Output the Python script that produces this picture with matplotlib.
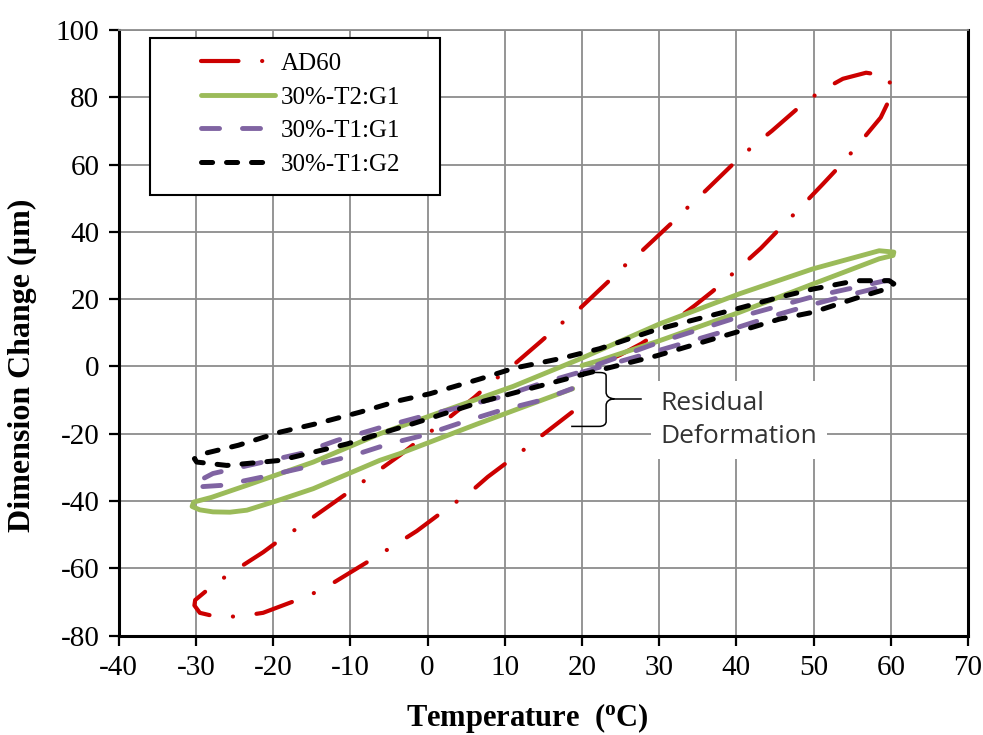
import matplotlib
matplotlib.use('Agg')
import matplotlib.pyplot as plt
from matplotlib.path import Path
from matplotlib.patches import PathPatch, Rectangle

plt.rcParams['lines.scale_dashes'] = False
plt.rcParams['mathtext.fontset'] = 'custom'
plt.rcParams['mathtext.rm'] = 'Liberation Serif:bold'
plt.rcParams['font.family'] = ['Liberation Serif', 'DejaVu Serif']

# ---------------- data ----------------
series_names = ['AD60', '30%-T2:G1', '30%-T1:G1', '30%-T1:G2']

ad60_temp = [18.7, 14.3, 12.1, 7.8, 5.4, 3.1, -1.4, -3.8, -6.3, -11.0, -13.5, -16.2,
             -21.3, -24.2, -27.1, -29.5, -30.2, -30.1, -28.1, -25.9, -21.3, -19.0,
             -16.5, -12.3, -9.9, -7.5, -3.6, -0.6, 1.8, 6.1, 8.3, 10.4, 14.7, 17.0,
             19.2, 23.3, 25.4, 27.7, 31.7, 33.8, 36.0, 39.9, 42.2, 44.6, 48.8, 51.2,
             53.8, 56.8, 59.4, 60.2, 60.0, 58.7, 55.3, 53.2, 51.2, 47.4, 45.3, 43.2,
             39.1, 36.9, 34.6, 30.3, 27.7, 25.0, 22.0]
ad60_dim = [-13.6, -21.4, -25.4, -32.8, -37.6, -41.2, -48.9, -52.4, -56.0, -62.6, -66.1,
            -68.8, -73.2, -74.2, -74.5, -73.2, -71.0, -69.4, -65.6, -62.0, -55.2, -51.3,
            -47.5, -40.7, -36.8, -32.8, -26.4, -21.0, -17.0, -9.1, -4.6, -1.0, 7.5, 12.2,
            16.1, 25.0, 29.7, 34.2, 42.8, 47.5, 52.2, 60.9, 65.6, 70.0, 78.4, 82.2,
            85.5, 87.3, 86.4, 83.0, 80.2, 74.0, 64.6, 59.1, 54.2, 45.1, 40.2, 35.2,
            26.7, 22.3, 18.1, 10.7, 6.8, 3.5, 0.5]

t2g1_temp = [20.0, 22.3, 30.1, 40.4, 49.9, 58.5, 60.3, 60.4, 58.5, 49.9, 40.4, 30.1,
             19.8, 11.1, 0.3, -6.2, -14.8, -23.4, -28.0, -30.3, -30.5, -29.5, -27.8,
             -25.6, -23.4, -19.1, -14.8, -6.2, -3.6, 6.3, 18.8]
t2g1_dim = [0.3, 1.8, 7.7, 16.1, 24.5, 32.0, 33.0, 34.0, 34.4, 29.0, 21.6, 12.7,
            2.3, -5.9, -14.7, -20.0, -28.4, -35.3, -38.9, -40.3, -41.6, -42.6, -43.2,
            -43.3, -42.7, -39.6, -36.3, -27.9, -25.9, -17.2, -6.6]

t1g1_temp = [20.0, 30.0, 40.0, 45.6, 50.0, 55.0, 59.8, 60.3, 59.5, 55.0, 50.0, 40.0,
             30.0, 22.3, 19.7, 14.6, 9.4, 4.2, -1.0, -6.2, -11.8, -16.5, -21.3, -27.8,
             -30.3, -29.9, -26.5, -21.3, -14.8, -9.6, -5.0, -0.6, 4.6, 9.4, 14.6, 18.7]
t1g1_dim = [-1.7, 4.8, 11.5, 15.6, 18.5, 21.5, 24.2, 25.2, 25.6, 23.3, 20.8, 14.5,
            7.2, 0.8, -1.7, -5.1, -9.1, -12.1, -15.0, -18.2, -22.0, -25.9, -28.4, -31.8,
            -34.8, -35.8, -35.3, -32.8, -29.4, -26.4, -23.0, -20.5, -16.5, -13.1, -10.1, -6.6]

t1g2_temp = [20.0, 29.7, 40.0, 45.6, 49.9, 55.5, 59.8, 60.4, 59.8, 55.5, 49.9, 45.6,
             40.0, 29.7, 22.3, 17.1, 11.2, 6.8, 0.3, -3.6, -8.8, -14.4, -19.1, -24.5,
             -29.0, -30.2, -29.9, -26.0, -19.1, -10.4, -6.2, -1.9, 6.8, 13.2, 18.8, 20.0]
t1g2_dim = [-2.4, 3.2, 10.2, 14.1, 16.1, 20.3, 23.3, 24.6, 25.5, 25.5, 23.0, 20.6,
            17.1, 11.0, 5.3, 2.3, -0.5, -3.7, -8.1, -10.1, -13.6, -17.0, -19.5, -23.4,
            -25.9, -27.4, -28.4, -29.4, -27.9, -23.0, -20.0, -17.0, -10.6, -6.6, -3.2, -2.4]

x_ticks = [-40, -30, -20, -10, 0, 10, 20, 30, 40, 50, 60, 70]
y_ticks = [-80, -60, -40, -20, 0, 20, 40, 60, 80, 100]

# ---------------- figure ----------------
fig = plt.figure(figsize=(9.83, 7.35), dpi=100)
ax = fig.add_axes([0.1208, 0.1351, 0.9847 - 0.1208, 0.9592 - 0.1351])

ax.plot(ad60_temp, ad60_dim, color='#CC0000', lw=3.0,
        dashes=(27, 17, 0.1, 17), dash_capstyle='round', solid_capstyle='round',
        label=series_names[0], zorder=3)
ax.plot(t2g1_temp, t2g1_dim, color='#9BBB59', lw=3.5, solid_capstyle='round',
        label=series_names[1], zorder=4)
ax.plot(t1g1_temp, t1g1_dim, color='#8064A2', lw=3.5,
        dashes=(13, 16.5), dash_capstyle='round',
        label=series_names[2], zorder=5)
ax.plot(t1g2_temp, t1g2_dim, color='black', lw=3.6,
        dashes=(8, 10), dash_capstyle='round',
        label=series_names[3], zorder=6)

ax.set_xlim(-40, 70)
ax.set_ylim(-80, 100)
ax.set_xticks(x_ticks)
ax.set_yticks(y_ticks)
ax.set_xticklabels([str(v) for v in x_ticks])
ax.set_yticklabels([str(v) for v in y_ticks])
ax.tick_params(direction='out', length=7, width=1.6, labelsize=21, colors='black',
               pad=7)
ax.grid(True, color='#8C8C8C', lw=1.3)
ax.set_axisbelow(True)
for s in ['left', 'bottom', 'right']:
    ax.spines[s].set_color('black')
    ax.spines[s].set_linewidth(2.2)
ax.spines['top'].set_color('#8C8C8C')
ax.spines['top'].set_linewidth(1.3)

# legend frame (drawn separately to reproduce the wide left padding)
ax.add_patch(Rectangle((0.0369, 0.7276), 0.3783 - 0.0369, 0.9868 - 0.7276,
                       transform=ax.transAxes, facecolor='white', edgecolor='black',
                       lw=1.5, zorder=9))
leg = ax.legend(loc='center left', bbox_to_anchor=(0.0969, 0.8613), borderaxespad=0,
                frameon=False, fontsize=18, handlelength=2.95, handletextpad=0.25,
                labelspacing=0.44, borderpad=0)
leg.set_zorder(10)

# Annotation: brace + text
verts = [(20.1, -1.7), (22.4, -1.8), (23.1, -1.9), (23.13, -2.3), (23.13, -3.0),
         (23.13, -7.6), (23.13, -8.8), (23.5, -9.5), (24.2, -9.6),
         (23.5, -9.7), (23.13, -10.4), (23.13, -11.6),
         (23.13, -16.3), (23.13, -17.2), (22.8, -17.8), (22.2, -17.8),
         (18.6, -17.8)]
codes = [Path.MOVETO, Path.LINETO, Path.CURVE4, Path.CURVE4, Path.CURVE4,
         Path.LINETO, Path.CURVE4, Path.CURVE4, Path.CURVE4,
         Path.CURVE4, Path.CURVE4, Path.CURVE4,
         Path.LINETO, Path.CURVE4, Path.CURVE4, Path.CURVE4,
         Path.LINETO]
ax.add_patch(PathPatch(Path(verts, codes), facecolor='none', edgecolor='black',
                       lw=1.1, zorder=7))
ax.plot([24.2, 27.7], [-9.6, -9.6], color='black', lw=1.1, zorder=7)
ax.text(30.2, -15.9, 'Residual\nDeformation', fontfamily=['Open Sans', 'DejaVu Sans'],
        fontsize=19, color='#333333', ha='left', va='center', linespacing=1.42,
        zorder=8, bbox=dict(facecolor='white', edgecolor='none', pad=7))

fig.text(527 / 983, 1 - 718 / 735, r'Temperature  ($\mathrm{^o}$C)', fontsize=22,
         fontweight='bold', ha='center', va='center')
fig.text(22 / 983, 1 - 365 / 735, 'Dimension Change (µm)', fontsize=23,
         fontweight='bold', ha='center', va='center', rotation=90)

fig.savefig('out.png', dpi=100)
